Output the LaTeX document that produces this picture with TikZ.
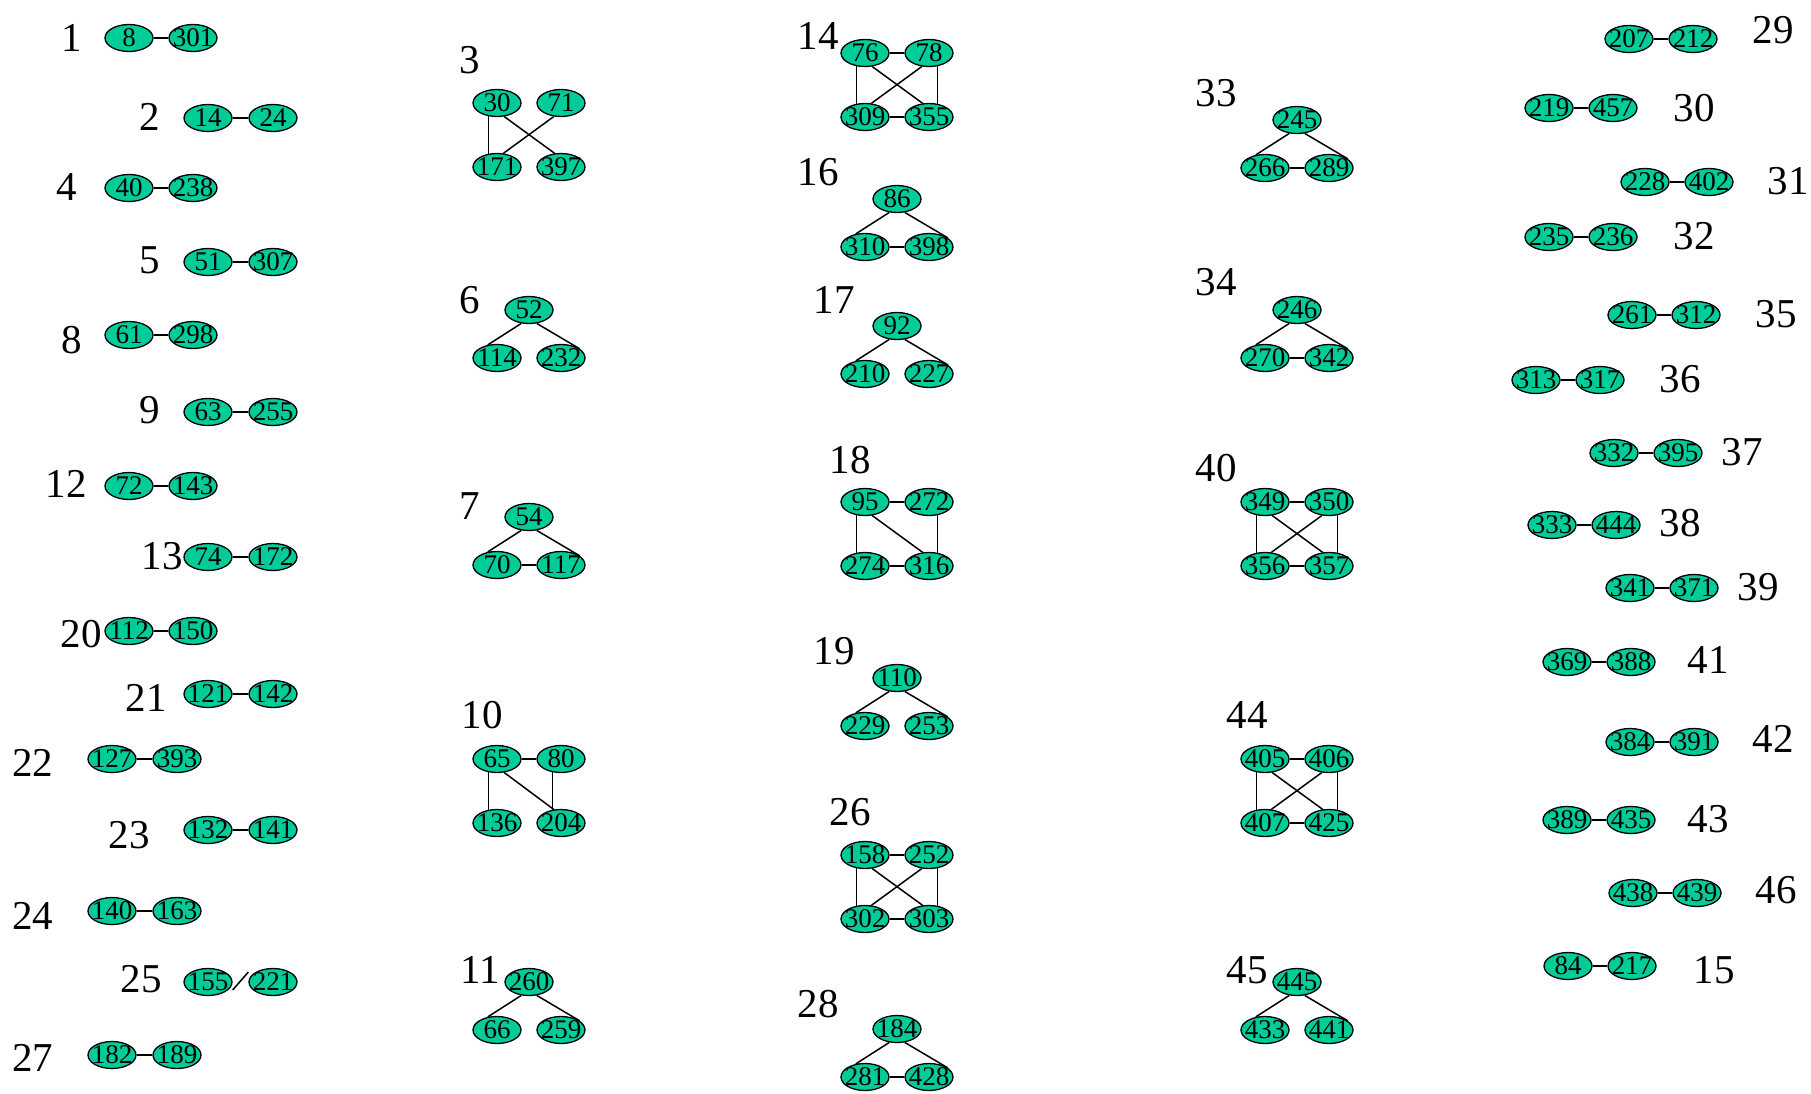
\documentclass[tikz,border=0pt]{standalone}
\usepackage{fontspec}
\setmainfont{Liberation Serif}
\usetikzlibrary{shapes.geometric,calc}
\definecolor{vfill}{RGB}{0,204,153}
\tikzset{
  vx/.style={ellipse, draw=black, line width=1.3pt, fill=vfill, minimum width=48pt, minimum height=27pt, inner sep=0pt, font=\fontsize{27}{27}\selectfont},
  lab/.style={inner sep=0pt, font=\fontsize{41}{41}\selectfont},
  ed/.style={line width=1.5pt, black}
}
\newcommand\vn[3]{\node[vx] (v#1) at ({#2},{#3}) {\makebox[0pt]{#1}};}
\newcommand\lb[3]{\node[lab] (l#1) at (#2,#3) {#1};}
\newcommand\eh[2]{\draw[ed] (v#1) -- (v#2);}
\newcommand\ea[4]{\draw[ed] (v#1.#2) -- (v#3.#4);}
% pair: label, a, b, xa, xb, y
\newcommand\pg[6]{\vn{#2}{#4}{#6}\vn{#3}{#5}{#6}\eh{#2}{#3}}
% triangle: top, bl, br, xl, xr, ytop
\newcommand\tri[6]{\vn{#1}{(#4+#5)/2}{#6}\vn{#2}{#4}{#6+48}\vn{#3}{#5}{#6+48}\ea{#1}{240}{#2}{125}\ea{#1}{300}{#3}{26}}
% square nodes: tl tr bl br xl xr ytop
\newcommand\sq[7]{\vn{#1}{#5}{#7}\vn{#2}{#6}{#7}\vn{#3}{#5}{#7+64}\vn{#4}{#6}{#7+64}}
\begin{document}
\begin{tikzpicture}[x=1pt,y=-1pt]
\useasboundingbox (0,0) rectangle (1811,1093);
% ---------- column 1 ----------
\lb{1}{72}{38}\pg{1}{8}{301}{129}{193}{38}
\lb{2}{150}{117}\pg{2}{14}{24}{208}{273}{118}
\lb{4}{67}{187}\pg{4}{40}{238}{129}{193}{188}
\lb{5}{150}{260}\pg{5}{51}{307}{208}{273}{262}
\lb{8}{72}{340}\pg{8}{61}{298}{129}{193}{335}
\lb{9}{150}{410}\pg{9}{63}{255}{208}{273}{412}
\lb{12}{66}{484}\pg{12}{72}{143}{129}{193}{486}
\lb{13}{162}{556}\pg{13}{74}{172}{208}{273}{557}
\lb{20}{81}{634}\pg{20}{112}{150}{129}{193}{631}
\lb{21}{146}{698}\pg{21}{121}{142}{208}{273}{694}
\lb{22}{33}{763}\pg{22}{127}{393}{112}{177}{759}
\lb{23}{129}{835}\pg{23}{132}{141}{208}{273}{830}
\lb{24}{33}{916}\pg{24}{140}{163}{112}{177}{911}
\lb{25}{141}{979}\vn{155}{208}{982}\vn{221}{273}{982}
\draw[ed] ($(v155.east)+(0,8)$) -- ($(v221.west)+(0,-10)$);
\lb{27}{33}{1058}\pg{27}{182}{189}{112}{177}{1055}
% ---------- column 2 ----------
\lb{3}{470}{60}\sq{30}{71}{171}{397}{497}{561}{103}
\ea{30}{238}{171}{122}\ea{30}{298}{397}{115}\ea{71}{242}{171}{65}
\lb{6}{470}{300}\tri{52}{114}{232}{497}{561}{310}
\lb{7}{470}{506}\tri{54}{70}{117}{497}{561}{517}\eh{70}{117}
\lb{10}{482}{715}\sq{65}{80}{136}{204}{497}{561}{759}
\eh{65}{80}\ea{65}{238}{136}{122}\ea{80}{238}{204}{122}\ea{65}{298}{204}{118}
\lb{11}{480}{970}\tri{260}{66}{259}{497}{561}{982}
% ---------- column 3 ----------
\lb{14}{818}{36}\sq{76}{78}{309}{355}{865}{929}{53}
\eh{76}{78}\eh{309}{355}\ea{76}{238}{309}{122}\ea{78}{302}{355}{58}\ea{76}{298}{355}{115}\ea{78}{242}{309}{65}
\lb{16}{818}{172}\tri{86}{310}{398}{865}{929}{199}\eh{310}{398}
\lb{17}{834}{300}\tri{92}{210}{227}{865}{929}{326}
\lb{18}{850}{460}\sq{95}{272}{274}{316}{865}{929}{502}
\eh{95}{272}\eh{274}{316}\ea{95}{238}{274}{122}\ea{272}{302}{316}{58}\ea{95}{298}{316}{115}
\lb{19}{834}{651}\tri{110}{229}{253}{865}{929}{678}
\lb{26}{850}{812}\sq{158}{252}{302}{303}{865}{929}{855}
\eh{158}{252}\eh{302}{303}\ea{158}{238}{302}{122}\ea{252}{302}{303}{58}\ea{158}{298}{303}{115}\ea{252}{242}{302}{65}
\lb{28}{818}{1004}\tri{184}{281}{428}{865}{929}{1029}\eh{281}{428}
% ---------- column 4 ----------
\lb{33}{1216}{93}\tri{245}{266}{289}{1265}{1329}{120}\eh{266}{289}
\lb{34}{1216}{282}\tri{246}{270}{342}{1265}{1329}{310}\eh{270}{342}
\lb{40}{1216}{468}\sq{349}{350}{356}{357}{1265}{1329}{502}
\eh{349}{350}\eh{356}{357}\ea{349}{238}{356}{122}\ea{350}{302}{357}{58}\ea{349}{298}{357}{115}\ea{350}{242}{356}{65}
\lb{44}{1247}{715}\sq{405}{406}{407}{425}{1265}{1329}{759}
\eh{405}{406}\eh{407}{425}\ea{405}{238}{407}{122}\ea{406}{302}{425}{58}\ea{405}{298}{425}{115}\ea{406}{242}{407}{65}
\lb{45}{1247}{970}\tri{445}{433}{441}{1265}{1329}{982}
% ---------- column 5 ----------
\lb{29}{1773}{30}\pg{29}{207}{212}{1629}{1693}{39}
\lb{30}{1694}{108}\pg{30}{219}{457}{1549}{1613}{108}
\lb{31}{1788}{181}\pg{31}{228}{402}{1645}{1709}{182}
\lb{32}{1694}{236}\pg{32}{235}{236}{1549}{1613}{237}
\lb{35}{1776}{314}\pg{35}{261}{312}{1632}{1696}{315}
\lb{36}{1680}{379}\pg{36}{313}{317}{1536}{1600}{380}
\lb{37}{1742}{452}\pg{37}{332}{395}{1614}{1678}{453}
\lb{38}{1680}{523}\pg{38}{333}{444}{1552}{1616}{525}
\lb{39}{1758}{587}\pg{39}{341}{371}{1630}{1694}{588}
\lb{41}{1708}{660}\pg{41}{369}{388}{1567}{1631}{662}
\lb{42}{1773}{739}\pg{42}{384}{391}{1630}{1694}{742}
\lb{43}{1708}{819}\pg{43}{389}{435}{1567}{1631}{820}
\lb{46}{1776}{890}\pg{46}{438}{439}{1633}{1697}{893}
\lb{15}{1714}{970}\pg{15}{84}{217}{1568}{1632}{966}
\end{tikzpicture}
\end{document}
